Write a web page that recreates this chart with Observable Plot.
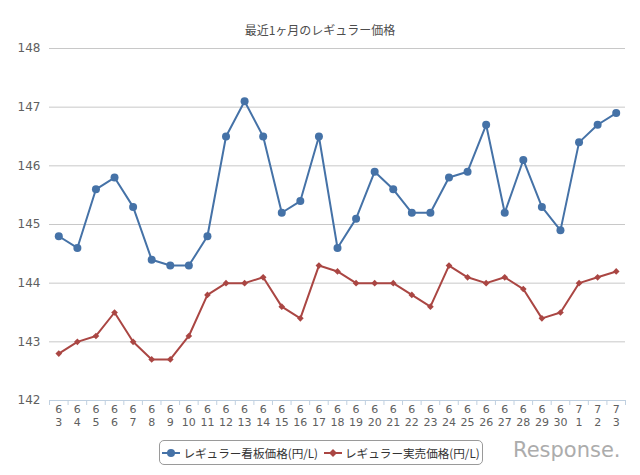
<!DOCTYPE html>
<html><head><meta charset="utf-8">
<script src="https://cdn.jsdelivr.net/npm/d3@7"></script>
<script src="https://cdn.jsdelivr.net/npm/@observablehq/plot@0.6"></script>
<style>
body{margin:0;background:#fff;}
#wrap{position:relative;width:640px;height:475px;overflow:hidden;font-family:"Noto Sans CJK JP","DejaVu Sans",sans-serif;}
#title{position:absolute;left:0;width:640px;top:21px;text-align:center;font-size:12px;color:#4d4d4d;line-height:18px;}
#legend{position:absolute;left:159px;top:440px;width:322px;height:23px;border:1px solid #9a9a9a;border-radius:5px;display:flex;align-items:center;justify-content:center;gap:6px;font-size:11.6px;color:#333;white-space:nowrap;}
#legend .it{display:flex;align-items:center;gap:3px;white-space:nowrap;}
#logo{position:absolute;left:513px;top:438px;font-family:"DejaVu Sans",sans-serif;font-size:21px;color:#acacac;}
</style></head>
<body>
<div id="wrap">
<div id="title"></div>
<div id="chart"></div>
<div id="legend"></div>
<div id="logo">Response.</div>
</div>
<script>
const title = "最近1ヶ月のレギュラー価格";
const months = [6,6,6,6,6,6,6,6,6,6,6,6,6,6,6,6,6,6,6,6,6,6,6,6,6,6,6,6,7,7,7];
const days   = [3,4,5,6,7,8,9,10,11,12,13,14,15,16,17,18,19,20,21,22,23,24,25,26,27,28,29,30,1,2,3];
const signPrice = [144.8,144.6,145.6,145.8,145.3,144.4,144.3,144.3,144.8,146.5,147.1,146.5,145.2,145.4,146.5,144.6,145.1,145.9,145.6,145.2,145.2,145.8,145.9,146.7,145.2,146.1,145.3,144.9,146.4,146.7,146.9];
const actualPrice = [142.8,143.0,143.1,143.5,143.0,142.7,142.7,143.1,143.8,144.0,144.0,144.1,143.6,143.4,144.3,144.2,144.0,144.0,144.0,143.8,143.6,144.3,144.1,144.0,144.1,143.9,143.4,143.5,144.0,144.1,144.2];
const seriesNames = ["レギュラー看板価格(円/L)","レギュラー実売価格(円/L)"];
const colors = ["#4572A7","#AA4643"];
const yTicks = [142,143,144,145,146,147,148];

document.getElementById("title").textContent = title;

const idx = d3.range(days.length);
const rowsA = idx.map(i => ({i, v: signPrice[i]}));
const rowsB = idx.map(i => ({i, v: actualPrice[i]}));

const chart = Plot.plot({
  width: 640, height: 475,
  marginTop: 48, marginBottom: 75, marginLeft: 49, marginRight: 15,
  style: {fontFamily: "'DejaVu Sans', sans-serif", fontSize: "12px", color: "#606060", background: "transparent"},
  x: {type: "linear", domain: [-0.5, days.length - 0.5]},
  y: {domain: [142, 148]},
  marks: [
    Plot.ruleY(yTicks.slice(1), {stroke: "#c8c8c8", strokeWidth: 1}),
    Plot.ruleY([142], {stroke: "#C0D0E0", strokeWidth: 1}),
    Plot.axisY({ticks: yTicks, tickSize: 0, tickPadding: 9, tickFormat: d => String(d), fill: "#606060", fontSize: 12, label: null}),
    Plot.axisX({ticks: d3.range(-0.5, days.length, 1), tickSize: 5, tickFormat: () => "", stroke: "#C0D0E0", label: null}),
    Plot.axisX({ticks: idx, tickSize: 0, tickPadding: 5, tickFormat: i => String(months[i]), fill: "#606060", fontSize: 11, label: null}),
    Plot.axisX({ticks: idx, tickSize: 0, tickPadding: 18, tickFormat: i => String(days[i]), fill: "#606060", fontSize: 11, label: null}),
    Plot.lineY(rowsA, {x: "i", y: "v", stroke: colors[0], strokeWidth: 2}),
    Plot.dot(rowsA, {x: "i", y: "v", fill: colors[0], r: 4, symbol: "circle"}),
    Plot.lineY(rowsB, {x: "i", y: "v", stroke: colors[1], strokeWidth: 2}),
    Plot.dot(rowsB, {x: "i", y: "v", fill: colors[1], r: 3, symbol: "diamond2"})
  ]
});
document.getElementById("chart").appendChild(chart);

const leg = document.getElementById("legend");
seriesNames.forEach((name, k) => {
  const it = document.createElement("div");
  it.className = "it";
  const marker = k === 0
    ? `<svg width="18" height="10"><line x1="0" y1="5" x2="18" y2="5" stroke="${colors[k]}" stroke-width="2"/><circle cx="9" cy="5" r="4" fill="${colors[k]}"/></svg>`
    : `<svg width="18" height="10"><line x1="0" y1="5" x2="18" y2="5" stroke="${colors[k]}" stroke-width="2"/><path d="M9 1 L13 5 L9 9 L5 5 Z" fill="${colors[k]}"/></svg>`;
  it.innerHTML = marker + `<span>${name}</span>`;
  leg.appendChild(it);
});
</script>
</body></html>
